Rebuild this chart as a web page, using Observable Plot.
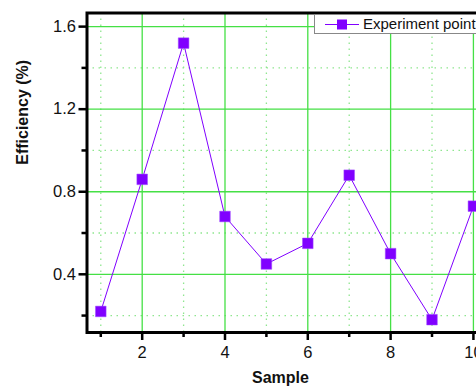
<!DOCTYPE html>
<html>
<head>
<meta charset="utf-8">
<script src="https://cdn.jsdelivr.net/npm/d3@7"></script>
<script src="https://cdn.jsdelivr.net/npm/@observablehq/plot@0.6"></script>
<style>
  html, body { margin: 0; padding: 0; overflow: hidden; background: #fff; width: 476px; height: 390px; }
  #wrap { position: relative; width: 500px; height: 390px; }
  #legend { position: absolute; left: 314px; top: 14px; width: 190px; height: 18px; border: 1px solid #888; background: #fff;
    font-family: Arial, "Liberation Sans", sans-serif; font-size: 15px; color: #111; }
  #legend svg { position: absolute; left: 0; top: 0; }
  #legend span { position: absolute; left: 48px; top: 0px; line-height: 18px; white-space: nowrap; }
</style>
</head>
<body>
<div id="wrap"></div>
<script>
const samples = [1, 2, 3, 4, 5, 6, 7, 8, 9, 10];
const efficiency = [0.22, 0.86, 1.52, 0.68, 0.45, 0.55, 0.88, 0.50, 0.18, 0.73];
const seriesName = "Experiment point";
const xMajorTicks = [2, 4, 6, 8, 10];
const xMinorTicks = [1, 3, 5, 7, 9];
const yMajorTicks = [0.4, 0.8, 1.2, 1.6];
const yMinorTicks = [0.2, 0.6, 1.0, 1.4];
const xTitle = "Sample";
const yTitle = "Efficiency (%)";

const data = samples.map((s, i) => ({sample: s, value: efficiency[i]}));
const purple = "#8000ff";
const font = "Arial, 'Liberation Sans', sans-serif";

const chart = Plot.plot({
  width: 500,
  height: 390,
  marginLeft: 86.5,
  marginRight: 13.3,
  marginTop: 12.5,
  marginBottom: 58,
  style: {fontFamily: font, fontSize: "16px", color: "#111", background: "#fff"},
  x: {domain: [0.667, 10.333]},
  y: {domain: [0.118, 1.666]},
  marks: [
    Plot.gridX(xMinorTicks, {stroke: "#8fe68f", strokeOpacity: 1, strokeWidth: 1.3, strokeDasharray: "1.5,4.5"}),
    Plot.gridY(yMinorTicks, {stroke: "#8fe68f", strokeOpacity: 1, strokeWidth: 1.3, strokeDasharray: "1.5,4.5"}),
    Plot.gridX(xMajorTicks, {stroke: "#45e045", strokeOpacity: 1, strokeWidth: 1.3}),
    Plot.gridY(yMajorTicks, {stroke: "#45e045", strokeOpacity: 1, strokeWidth: 1.3}),
    Plot.line(data, {x: "sample", y: "value", stroke: purple, strokeWidth: 1}),
    Plot.dot(data, {x: "sample", y: "value", symbol: "square", r: 6, fill: purple, stroke: "#a050ff", strokeWidth: 0.5}),
    Plot.frame({stroke: "#000", strokeWidth: 3}),
    Plot.axisX(xMajorTicks, {tickSize: 8, tickPadding: 6, strokeWidth: 2.5, stroke: "#000", fontSize: 16.5, label: null, tickFormat: d => String(d)}),
    Plot.axisX(xMinorTicks, {tickSize: 5, strokeWidth: 2.5, stroke: "#000", label: null, tickFormat: () => ""}),
    Plot.axisY(yMajorTicks, {tickSize: 8, tickPadding: 3, strokeWidth: 2.5, stroke: "#000", fontSize: 16.5, label: null, tickFormat: d3.format(".1f")}),
    Plot.axisY(yMinorTicks, {tickSize: 5, strokeWidth: 2.5, stroke: "#000", label: null, tickFormat: () => ""}),
    Plot.text([xTitle], {frameAnchor: "bottom", dx: -6.6, dy: 50, fontWeight: "bold", fontSize: 16, fill: "#111"}),
    Plot.text([yTitle], {frameAnchor: "left", rotate: -90, dx: -64.5, dy: -8, fontWeight: "bold", fontSize: 16, fill: "#111"})
  ]
});

const wrap = document.getElementById("wrap");
wrap.appendChild(chart);

const legend = document.createElement("div");
legend.id = "legend";
legend.innerHTML = `<svg width="48" height="18"><line x1="10" y1="9.5" x2="44" y2="9.5" stroke="${purple}" stroke-width="1.2"/><rect x="22" y="4.5" width="10" height="10" fill="${purple}"/></svg><span></span>`;
legend.querySelector("span").textContent = seriesName;
wrap.appendChild(legend);
</script>
</body>
</html>
